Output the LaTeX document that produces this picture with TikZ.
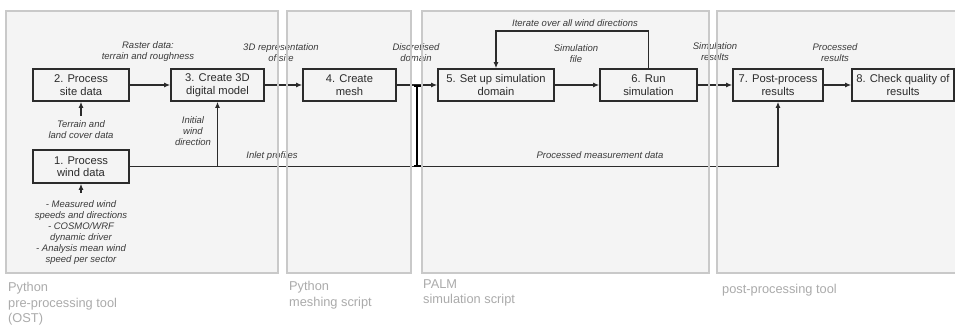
\documentclass[tikz,border=0pt]{standalone}
\usepackage{fontspec}
\setmainfont{Liberation Sans}
\usetikzlibrary{arrows.meta,calc}
\definecolor{panelfill}{HTML}{F4F4F4}
\definecolor{paneledge}{HTML}{C9C9C9}
\definecolor{ink}{HTML}{2B2B2B}
\definecolor{lblink}{HTML}{3A3A3A}
\definecolor{panelink}{HTML}{ABABAB}
\begin{document}
\begin{tikzpicture}[x=1pt,y=-1pt,
  procbox/.style={draw=ink, line width=1.6pt, align=center, minimum height=32pt,
    inner sep=2pt, font=\fontsize{11.2}{12.5}\selectfont, text=ink},
  arr/.style={draw=ink, line width=1.6pt, -{Latex[length=6pt,width=5pt]}},
  conn/.style={draw=ink, line width=1.6pt},
  barline/.style={draw=black, line width=2.4pt, {Bar[width=7pt,line width=1.6pt]}-{Bar[width=7pt,line width=1.6pt]}},
  lbl/.style={font=\itshape\fontsize{9.5}{11}\selectfont, text=lblink, align=center, inner sep=0pt},
  pnl/.style={fill=panelfill},
  pnledge/.style={draw=paneledge, line width=2pt},
  pnlabel/.style={anchor=north west, align=left, inner sep=0pt, text=panelink,
    font=\fontsize{12.8}{15.2}\selectfont}]
\useasboundingbox (0,0) rectangle (955,325);
\fill[white] (0,0) rectangle (955,325);
% panel fills
\fill[pnl] (6,11) rectangle (278,273);
\fill[pnl] (287,11) rectangle (411,273);
\fill[pnl] (422,11) rectangle (709,273);
\fill[pnl] (717,11) rectangle (962,273);

% process boxes
\node[procbox, minimum width=96pt] (n2) at (81,85) {2. Process\\site data};
\node[procbox, minimum width=93pt] (n3) at (217.5,85) {3. Create 3D\\digital model};
\node[procbox, minimum width=96pt, minimum height=33pt] (n1) at (81,166.5) {1. Process\\wind data};
\node[procbox, minimum width=93pt] (n4) at (349.5,85) {4. Create\\mesh};
\node[procbox, minimum width=116pt] (n5) at (496,85) {5. Set up simulation\\domain};
\node[procbox, minimum width=97pt] (n6) at (648.5,85) {6. Run\\simulation};
\node[procbox, minimum width=90pt] (n7) at (778,85) {7. Post-process\\results};
\node[procbox, minimum width=102pt] (n8) at (903,85) {8. Check quality of\\results};

% helper coordinates
\coordinate (in2) at (81,116);
\coordinate (in1) at (81,193);
\coordinate (looptop) at (0,31);
\coordinate (bartop) at ($(n4.east)!0.5!(n5.west)$);
\coordinate (barbot) at (bartop |- n1.east);

% connectors
\draw[arr] (n2) -- (n3);
\draw[arr] (n3) -- (n4);
\draw[arr] (n4) -- (n5);
\draw[arr] (n5) -- (n6);
\draw[arr] (n6) -- (n7);
\draw[arr] (n7) -- (n8);
\draw[arr] (n6.north) -- (n6.north |- looptop) -| (n5.north);
\draw[arr] (in2) -- (n2.south);
\draw[arr] (in1) -- (n1.south);
\draw[arr] (n1.east) -| (n7.south);
\draw[arr] (n1.east -| n3.south) -- (n3.south);
\draw[barline] (bartop) -- (barbot);

% labels
\node[lbl] (lraster) at (148,52) {Raster data:\\terrain and roughness};
\node[lbl] (l3d) at (281,53) {3D representation\\of site};
\node[lbl] (ldisc) at (416,52.5) {Discretised\\domain};
\node[lbl] (lsimf) at (576,53.5) {Simulation\\file};
\node[lbl] (lsimr) at (715,51.5) {Simulation\\results};
\node[lbl] (lproc) at (835,52.5) {Processed\\results};
\node[lbl] (liter) at (575,23) {Iterate over all wind directions};
\node[lbl] (lterr) at (81,129.5) {Terrain and\\land cover data};
\node[lbl] (linit) at (193,131) {Initial\\wind\\direction};
\node[lbl] (linlet) at (272,156) {Inlet profiles};
\node[lbl] (lmeas) at (600,155) {Processed measurement data};
\node[lbl] (lwind) at (81,232.5) {- Measured wind\\speeds and directions\\- COSMO/WRF\\dynamic driver\\- Analysis mean wind\\speed per sector};

% panel borders on top
\draw[pnledge] (6,11) rectangle (278,273);
\draw[pnledge] (287,11) rectangle (411,273);
\draw[pnledge] (422,11) rectangle (709,273);
\draw[pnledge] (717,11) rectangle (962,273);

% panel labels
\node[pnlabel] (p1) at (8,282.5) {Python\\pre-processing tool\\(OST)};
\node[pnlabel] (p2) at (289,281.5) {Python\\meshing script};
\node[pnlabel] (p3) at (423,279.5) {PALM\\simulation script};
\node[pnlabel] (p4) at (722,284.5) {post-processing tool};
\end{tikzpicture}
\end{document}
